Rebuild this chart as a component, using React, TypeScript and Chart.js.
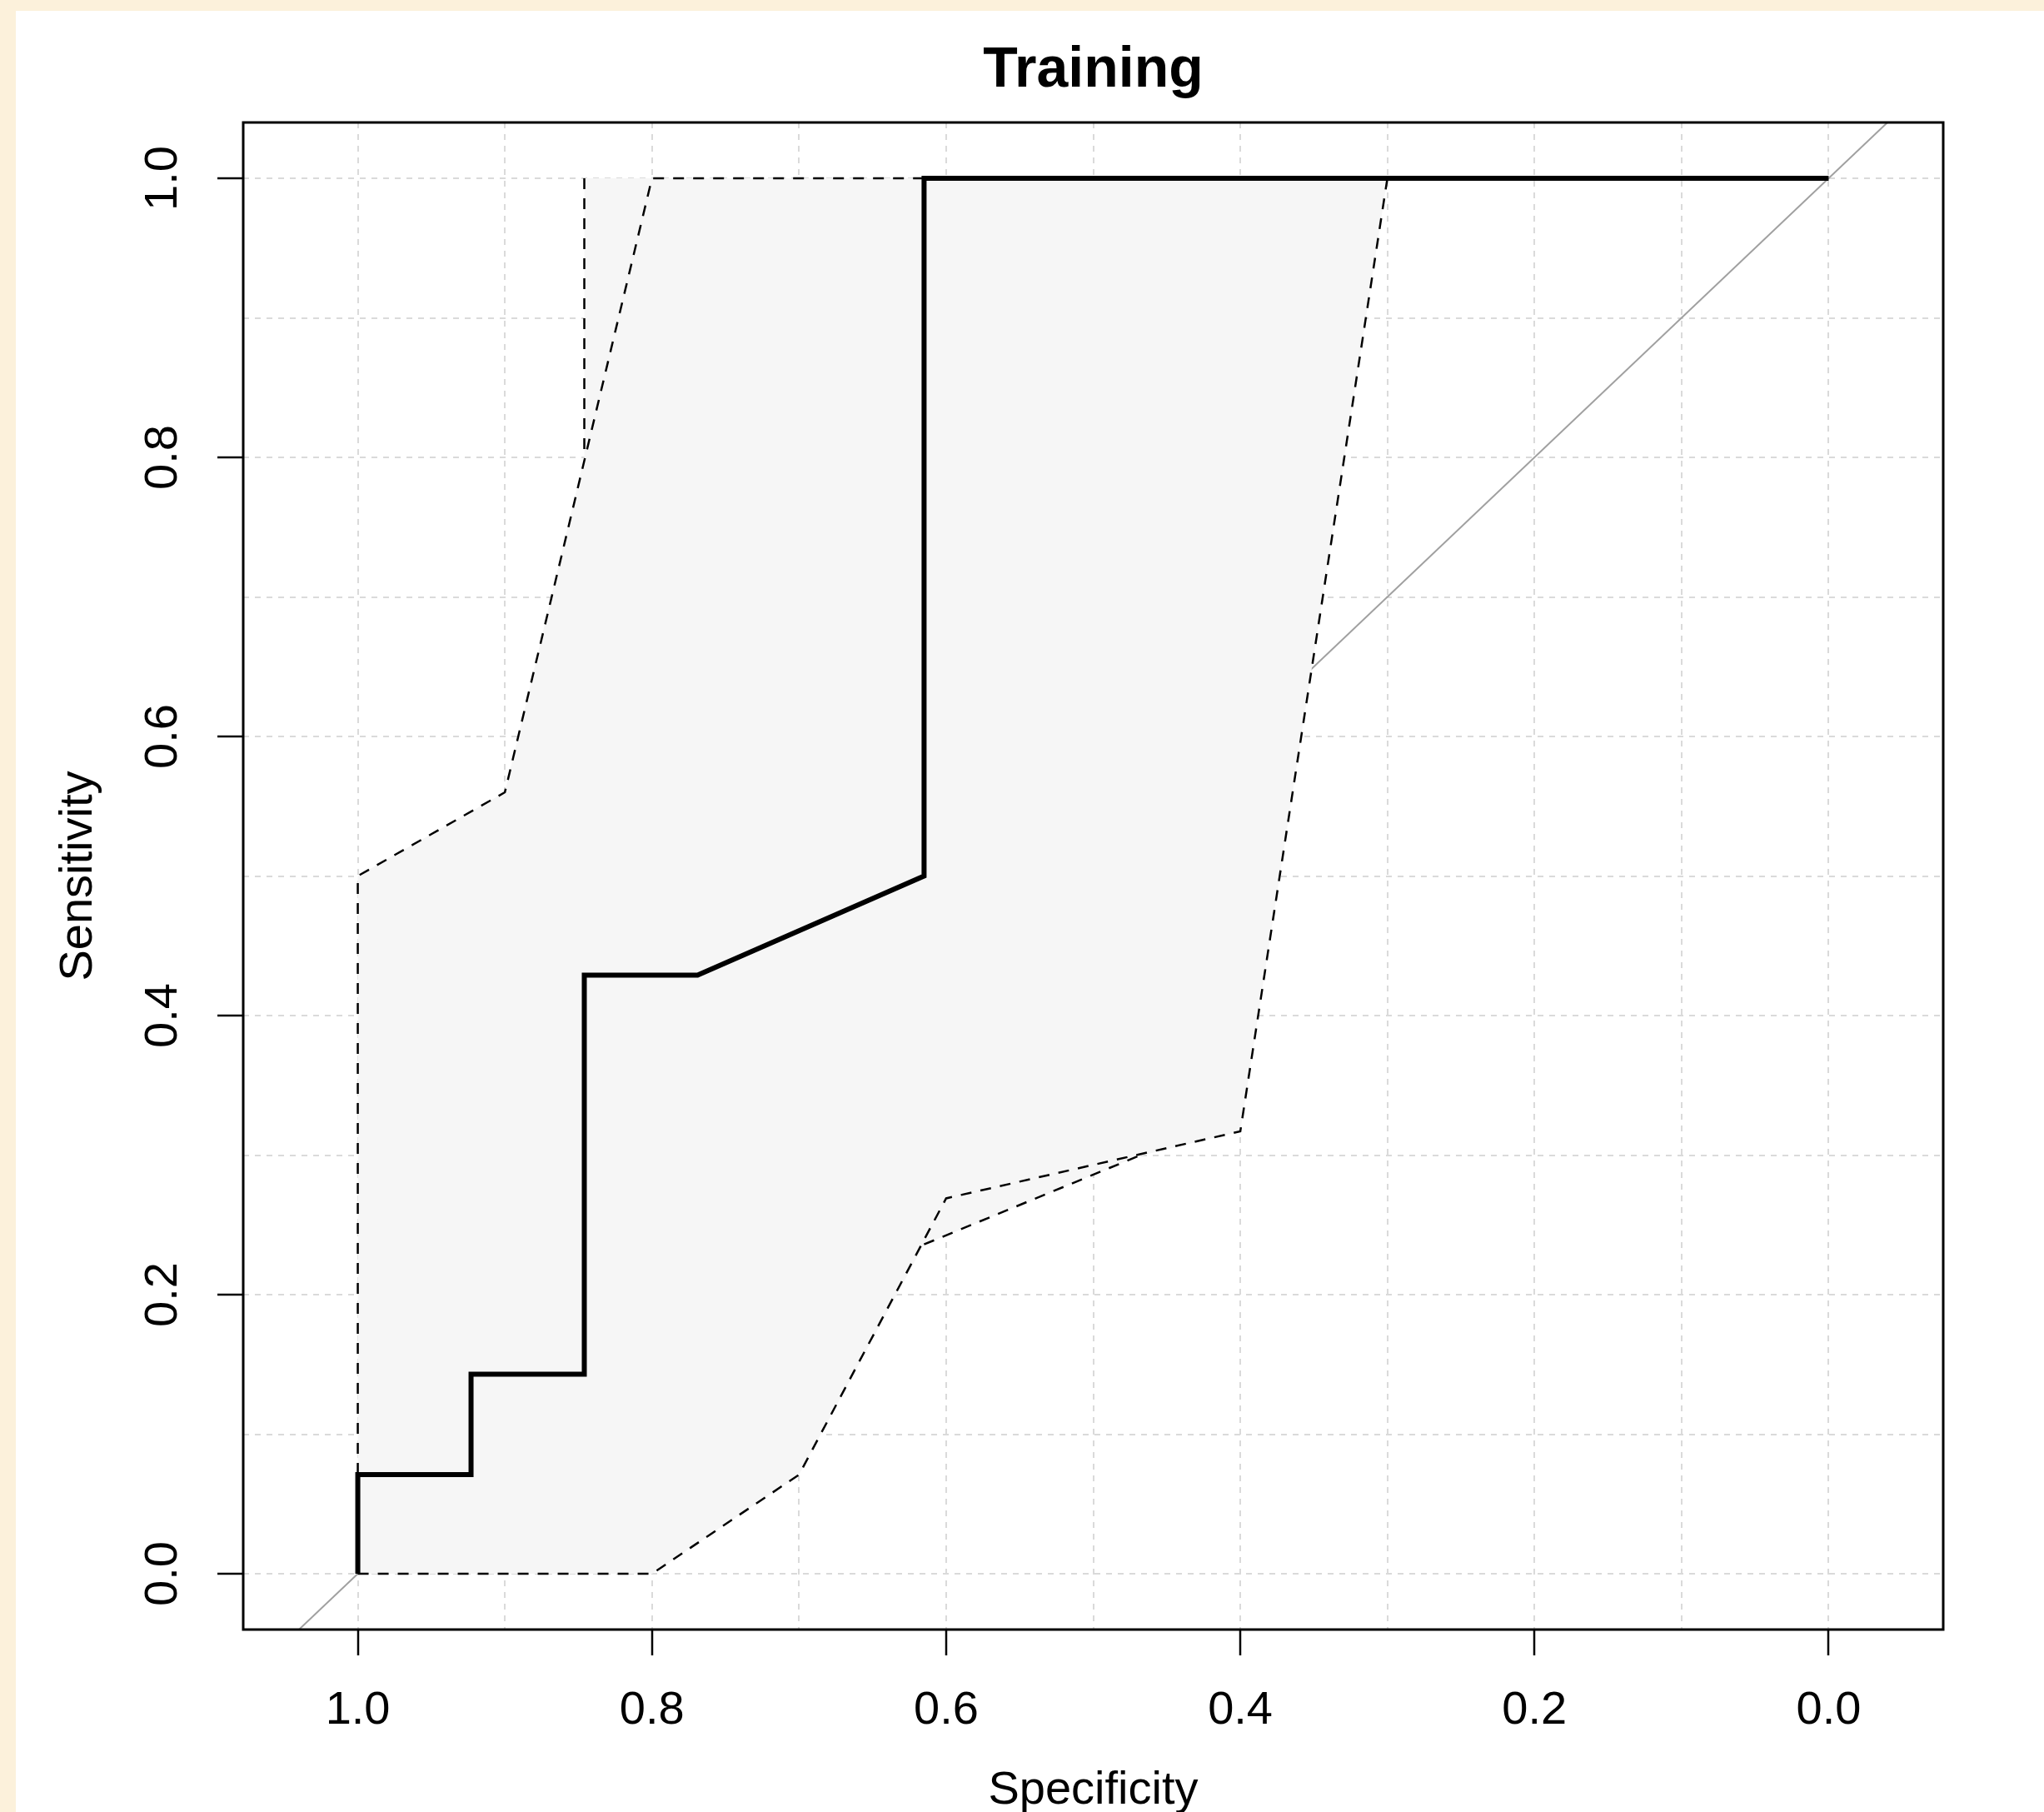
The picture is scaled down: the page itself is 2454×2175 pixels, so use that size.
import React, { useEffect, useRef } from 'react';
import { Chart, registerables } from 'chart.js';

Chart.register(...registerables);

// ---- texts ----
const chartTitle = 'Training';
const xAxisTitle = 'Specificity';
const yAxisTitle = 'Sensitivity';

// ---- axes ----
const gridValues = [0, 0.1, 0.2, 0.3, 0.4, 0.5, 0.6, 0.7, 0.8, 0.9, 1.0];
const tickValues = [0, 0.2, 0.4, 0.6, 0.8, 1.0];
const tickLabels = ['0.0', '0.2', '0.4', '0.6', '0.8', '1.0'];
const xRange = [-0.0779, 1.0779];
const yRange = [-0.04, 1.04];

// ---- ROC curve (specificity, sensitivity) ----
const rocSpecificity = [1.0, 1.0, 0.923, 0.923, 0.846, 0.846, 0.769, 0.615, 0.615, 0.0];
const rocSensitivity = [0.0, 0.071, 0.071, 0.143, 0.143, 0.429, 0.429, 0.5, 1.0, 1.0];

// ---- CI of sensitivity: upper and lower bounds ----
const ciUpperSpecificity = [1.0, 1.0, 0.9, 0.8, 0.0];
const ciUpperSensitivity = [0.0, 0.5, 0.56, 1.0, 1.0];
const ciLowerSpecificity = [1.0, 0.9, 0.8, 0.7, 0.6, 0.4, 0.3, 0.0];
const ciLowerSensitivity = [0.0, 0.0, 0.0, 0.071, 0.269, 0.317, 1.0, 1.0];

// ---- CI of specificity: extra visible bound segments ----
const ciSpUpperSpecificity = [0.846, 0.846];
const ciSpUpperSensitivity = [1.0, 0.8];
const ciSpLowerSpecificity = [0.615, 0.47];
const ciSpLowerSensitivity = [0.236, 0.299];

// ---- shaded confidence area outline ----
const ciAreaSpecificity = [1.0, 1.0, 0.9, 0.846, 0.846, 0.3, 0.4, 0.47, 0.615, 0.7, 0.8];
const ciAreaSensitivity = [0.0, 0.5, 0.56, 0.8, 1.0, 1.0, 0.317, 0.299, 0.236, 0.071, 0.0];

// ---- chance diagonal (sensitivity = 1 - specificity) ----
const chanceSpecificity = [1.1, -0.1];
const chanceSensitivity = [-0.1, 1.1];

const FONT = "'Liberation Sans', Arial, Helvetica, sans-serif";

export default function App() {
  const canvasRef = useRef<HTMLCanvasElement>(null);

  useEffect(() => {
    const canvas = canvasRef.current;
    if (!canvas) return;

    const toPoints = (xs: number[], ys: number[]) => xs.map((x, i) => ({ x, y: ys[i] }));
    const labelIndex = (v: number) => tickValues.findIndex((t) => Math.abs(t - v) < 1e-9);
    const labelFor = (v: number) => {
      const i = labelIndex(v);
      return i >= 0 ? tickLabels[i] : '';
    };

    const boxPlugin = {
      id: 'plotBox',
      afterDatasetsDraw(chart: any) {
        const { ctx, chartArea: a } = chart;
        ctx.save();
        ctx.setLineDash([]);
        ctx.strokeStyle = '#000000';
        ctx.lineWidth = 3;
        ctx.strokeRect(a.left, a.top, a.right - a.left, a.bottom - a.top);
        ctx.restore();
      },
    };

    const gridOpts = {
      color: '#DADADA',
      lineWidth: 2,
      borderDash: [7, 7],
      drawTicks: true,
      tickLength: 31,
      tickWidth: 2.5,
      tickBorderDash: [],
      tickColor: (ctx: any) =>
        ctx.tick && labelIndex(ctx.tick.value) >= 0 ? '#000000' : 'rgba(0,0,0,0)',
    };
    const borderOpts = { display: false, dash: [7, 7] };
    const setTicks = (axis: any) => {
      axis.ticks = gridValues.map((v) => ({ value: v }));
    };

    const dashed = {
      borderColor: '#000000',
      borderWidth: 2.5,
      borderDash: [13, 11],
      pointRadius: 0,
      fill: false,
      order: 2,
    };

    const chart = new Chart(canvas, {
      type: 'line',
      data: {
        datasets: [
          {
            label: 'ROC',
            data: toPoints(rocSpecificity, rocSensitivity),
            borderColor: '#000000',
            borderWidth: 6,
            borderJoinStyle: 'miter',
            borderCapStyle: 'butt',
            pointRadius: 0,
            fill: false,
            order: 1,
          },
          { label: 'CI upper', data: toPoints(ciUpperSpecificity, ciUpperSensitivity), ...dashed },
          { label: 'CI lower', data: toPoints(ciLowerSpecificity, ciLowerSensitivity), ...dashed },
          { label: 'CI sp upper', data: toPoints(ciSpUpperSpecificity, ciSpUpperSensitivity), ...dashed },
          { label: 'CI sp lower', data: toPoints(ciSpLowerSpecificity, ciSpLowerSensitivity), ...dashed },
          {
            label: 'CI area',
            data: toPoints(ciAreaSpecificity, ciAreaSensitivity),
            borderWidth: 0,
            borderColor: 'rgba(0,0,0,0)',
            backgroundColor: '#F6F6F6',
            fill: 'shape',
            pointRadius: 0,
            order: 3,
          },
          {
            label: 'Chance',
            data: toPoints(chanceSpecificity, chanceSensitivity),
            borderColor: '#A0A0A0',
            borderWidth: 2,
            pointRadius: 0,
            fill: false,
            clip: 0,
            order: 4,
          },
        ] as any,
      },
      options: {
        animation: false,
        responsive: false,
        maintainAspectRatio: false,
        devicePixelRatio: 1,
        events: [],
        layout: { padding: { left: 0, right: 121, top: 0, bottom: 0 } },
        plugins: {
          legend: { display: false },
          tooltip: { enabled: false },
          title: {
            display: true,
            text: chartTitle,
            color: '#000000',
            fullSize: false,
            font: { family: FONT, size: 68, weight: 'bold', lineHeight: 1 },
            padding: { top: 38.5, bottom: 27.5 },
          },
        },
        scales: {
          x: {
            type: 'linear',
            reverse: true,
            min: xRange[0],
            max: xRange[1],
            afterBuildTicks: setTicks,
            afterFit: (s: any) => {
              s.height = 219;
            },
            grid: gridOpts,
            border: borderOpts,
            ticks: {
              autoSkip: false,
              minRotation: 0,
              maxRotation: 0,
              padding: 32.6,
              color: '#000000',
              font: { family: FONT, size: 56, lineHeight: 1.2 },
              callback: (v: any) => labelFor(Number(v)),
            },
            title: {
              display: true,
              text: xAxisTitle,
              color: '#000000',
              font: { family: FONT, size: 56, lineHeight: 1 },
              padding: { top: 0, bottom: -3 },
            },
          },
          y: {
            type: 'linear',
            min: yRange[0],
            max: yRange[1],
            afterBuildTicks: setTicks,
            afterFit: (s: any) => {
              s.width = 273;
            },
            grid: gridOpts,
            border: borderOpts,
            ticks: {
              autoSkip: false,
              minRotation: 90,
              maxRotation: 90,
              crossAlign: 'center',
              padding: 25.8,
              color: '#000000',
              font: { family: FONT, size: 56, lineHeight: 1.2 },
              callback: (v: any) => labelFor(Number(v)),
            },
            title: {
              display: true,
              text: yAxisTitle,
              color: '#000000',
              font: { family: FONT, size: 56, lineHeight: 1 },
              padding: { top: 47.2, bottom: 0 },
            },
          },
        },
      } as any,
      plugins: [boxPlugin],
    });

    return () => chart.destroy();
  }, []);

  return (
    <div
      style={{
        position: 'fixed',
        left: 0,
        top: 0,
        width: 2454,
        height: 2175,
        background: '#FCF1DB',
        overflow: 'hidden',
      }}
    >
      <div
        style={{
          position: 'absolute',
          left: 19,
          top: 13,
          width: 2435,
          height: 2162,
          background: '#FFFFFF',
        }}
      >
        <canvas
          ref={canvasRef}
          width={2435}
          height={2162}
          style={{ display: 'block', width: 2435, height: 2162 }}
        />
      </div>
    </div>
  );
}
